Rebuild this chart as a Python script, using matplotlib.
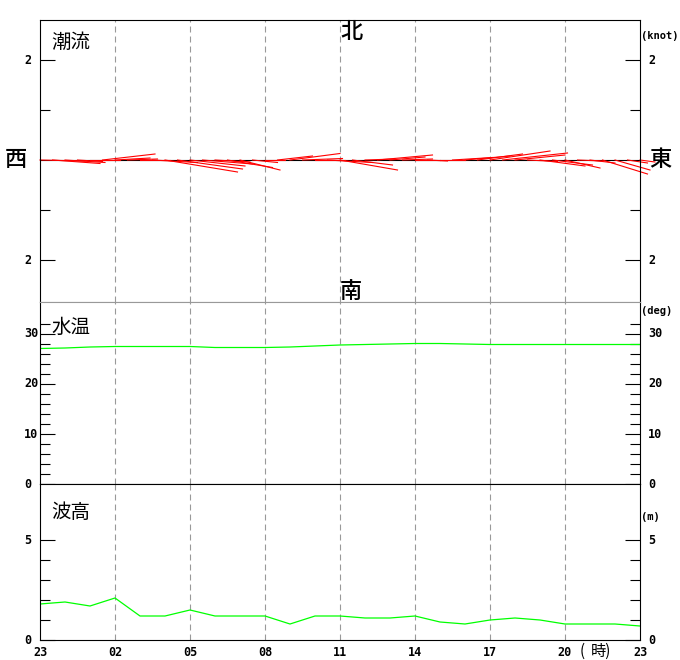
import matplotlib
matplotlib.use("Agg")
import matplotlib.pyplot as plt

plt.rcParams["lines.scale_dashes"] = False
JP = ["Noto Sans CJK JP", "DejaVu Sans"]
MONO = "DejaVu Sans Mono"

# Zeitachse: Stunden ab 23 Uhr (0 .. 24)
hour_ticks = [0, 3, 6, 9, 12, 15, 18, 21, 24]
hour_labels = ["23", "02", "05", "08", "11", "14", "17", "20", "23"]

# Strömung (knot), alle 30 Minuten: Ost- und Nordkomponente
cur_t = [0.0, 0.5, 1.0, 1.5, 2.0, 2.5, 3.0, 3.5, 4.0, 4.5, 5.0, 5.5,
         6.0, 6.5, 7.0, 7.5, 8.0, 8.5, 9.0, 9.5, 10.0, 10.5, 11.0, 11.5,
         12.0, 12.5, 13.0, 13.5, 14.0, 14.5, 15.0, 15.5, 16.0, 16.5, 17.0, 17.5,
         18.0, 18.5, 19.0, 19.5, 20.0, 20.5, 21.0, 21.5, 22.0, 22.5, 23.0, 23.5, 24.0]
cur_u = [0.9, 0.95, 0.8, 0.5, 0.6, 1.05, 0.7, 0.6, 0.6, 0.9, 1.45, 1.3,
         1.1, 1.0, 0.7, 0.9, 0.8, 0.5, 0.4, 0.7, 1.0, 0.8, 0.6, 0.9,
         1.15, 0.8, 0.6, 1.1, 0.7, 0.6, 0.5, 0.4, 0.5, 0.8, 0.9, 0.9,
         1.2, 1.3, 1.0, 0.6, 0.9, 0.8, 0.7, 0.5, 0.5, 0.9, 0.7, 0.4, 0.3]
cur_v = [-0.02, -0.07, -0.05, -0.03, 0.0, 0.12, 0.04, 0.02, 0.0, -0.05, -0.24, -0.18,
         -0.12, -0.08, -0.04, -0.15, -0.2, -0.05, 0.0, 0.08, 0.13, 0.03, 0.0, -0.05,
         -0.2, -0.1, 0.02, 0.1, 0.06, 0.02, 0.0, -0.02, 0.0, 0.05, 0.08, 0.12,
         0.18, 0.14, 0.1, -0.03, -0.12, -0.1, -0.16, -0.02, -0.06, -0.28, -0.2, -0.06, -0.04]

# Wassertemperatur (deg) und Wellenhöhe (m), stündlich
hours = list(range(25))
temp = [27.1, 27.2, 27.4, 27.5, 27.5, 27.5, 27.5, 27.3, 27.3, 27.3, 27.4, 27.6,
        27.8, 27.9, 28.0, 28.1, 28.1, 28.0, 27.9, 27.9, 27.9, 27.9, 27.9, 27.9, 27.9]
wave = [1.8, 1.9, 1.7, 2.1, 1.2, 1.2, 1.5, 1.2, 1.2, 1.2, 0.8, 1.2,
        1.2, 1.1, 1.1, 1.2, 0.9, 0.8, 1.0, 1.1, 1.0, 0.8, 0.8, 0.8, 0.7]

W, H = 680, 660
fig = plt.figure(figsize=(W / 100, H / 100), dpi=100)


def px(x, y):
    return x / W, 1 - y / H


def panel(top, bottom):
    return fig.add_axes([40 / W, 1 - bottom / H, 600 / W, (bottom - top) / H])


ax1 = panel(20, 302)
ax2 = panel(302, 484)
ax3 = panel(484, 640)

ax1.set_ylim(-2.84, 2.8)
ax2.set_ylim(0, 36.4)
ax3.set_ylim(0, 7.8)

for ax in (ax1, ax2, ax3):
    ax.set_xlim(0, 24)
    for s in ax.spines.values():
        s.set_linewidth(0.8)
        s.set_color("black")
    for h in hour_ticks[1:-1]:
        ax.axvline(h, color="#999999", lw=0.8, dashes=(4.3, 2.9), zorder=0)
    ax.tick_params(axis="x", length=0, labelbottom=False)
    ax.tick_params(axis="y", which="both", direction="in", left=True, right=True,
                   labelleft=False, labelright=False, width=0.8, color="black")
    ax.tick_params(axis="y", which="major", length=10.8)
    ax.tick_params(axis="y", which="minor", length=7.2)

ax1.spines["bottom"].set_color("#999999")
ax2.spines["top"].set_color("#999999")

# Stabdiagramm Strömung: 2 Stunden Breite pro knot (gleiche Pixel-Skala)
ax1.axhline(0, color="black", lw=0.8, zorder=1)
for t, u, v in zip(cur_t, cur_u, cur_v):
    ax1.plot([t, t + 2 * u], [0, v], color="red", lw=0.8, clip_on=False, zorder=2)
ax1.set_yticks([-2, 2])
ax1.set_yticks([-1, 1], minor=True)

ax2.plot(hours, temp, color="#00ff00", lw=0.9)
ax2.set_yticks([0, 10, 20, 30])
ax2.set_yticks([2, 4, 6, 8, 12, 14, 16, 18, 22, 24, 26, 28, 32], minor=True)

ax3.plot(hours, wave, color="#00ff00", lw=0.9)
ax3.set_yticks([0, 5])
ax3.set_yticks([1, 2, 3, 4], minor=True)

ax3.set_xticks(hour_ticks)
ax3.set_xticklabels(hour_labels)
ax3.tick_params(axis="x", labelbottom=True, pad=4.5)
for lbl in ax3.get_xticklabels():
    lbl.set_fontfamily(MONO)
    lbl.set_fontweight("bold")
    lbl.set_fontsize(8.5)

# y-Beschriftungen links und rechts (linksbündig)
num = dict(fontfamily=MONO, fontweight="bold", fontsize=8.5, va="center", ha="left")
for ax, vals, lab in [(ax1, [-2, 2], ["2", "2"]),
                      (ax2, [0, 10, 20, 30], ["0", "10", "20", "30"]),
                      (ax3, [0, 5], ["0", "5"])]:
    tr = ax.get_yaxis_transform()
    for val, s in zip(vals, lab):
        ax.text(-16 / 600, val, s, transform=tr, **num)
        ax.text(1 + 8 / 600, val, s, transform=tr, **num)

unit = dict(fontfamily=MONO, fontweight="bold", fontsize=7.5, va="center", ha="left")
fig.text(*px(641, 36), "(knot)", **unit)
fig.text(*px(641, 311), "(deg)", **unit)
fig.text(*px(641, 517), "(m)", **unit)

lab = dict(fontfamily=JP, fontsize=14, va="center", ha="left")
fig.text(*px(51, 42), "潮流", **lab)
fig.text(*px(51, 327), "水温", **lab)
fig.text(*px(51, 513), "波高", **lab)
fig.text(*px(580, 651), "(", fontfamily=JP, fontsize=11, va="center", ha="left")
fig.text(*px(591, 651), "時)", fontfamily=JP, fontsize=11, va="center", ha="left")

dirs = dict(fontfamily=JP, fontsize=16, fontweight="medium", ha="center", va="center")
fig.text(*px(351, 31), "北", **dirs)
fig.text(*px(351, 291), "南", **dirs)
fig.text(*px(16, 160), "西", **dirs)
fig.text(*px(660, 160), "東", **dirs)

fig.savefig("out.png", dpi=100)
